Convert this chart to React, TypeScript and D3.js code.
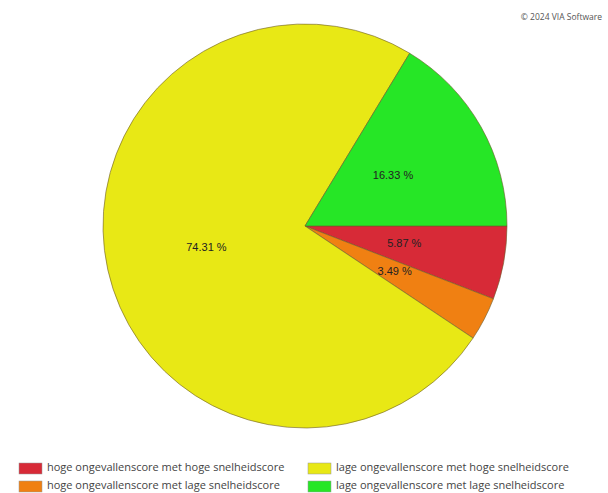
import React from "react";
import * as d3 from "d3";

const categories = [
  "hoge ongevallenscore met hoge snelheidscore",
  "hoge ongevallenscore met lage snelheidscore",
  "lage ongevallenscore met hoge snelheidscore",
  "lage ongevallenscore met lage snelheidscore",
];
const values = [5.87, 3.49, 74.31, 16.33];
const labels = ["5.87 %", "3.49 %", "74.31 %", "16.33 %"];
const colors = ["#d72a37", "#f08012", "#e8e815", "#26e626"];

const W = 608;
const H = 493;
const cx = 305;
const cy = 226;
const R = 202;

export default function App() {
  const pie = d3
    .pie<number>()
    .sort(null)
    .value((d) => d)
    .startAngle(Math.PI / 2)
    .endAngle(Math.PI / 2 + 2 * Math.PI);
  const arcs = pie(values);
  const arc = d3.arc<d3.PieArcDatum<number>>().innerRadius(0).outerRadius(R);
  const labelArc = d3
    .arc<d3.PieArcDatum<number>>()
    .innerRadius(R * 0.98)
    .outerRadius(R * 0.02);

  const font = "'Open Sans', Lato, sans-serif";
  const labelFont = "'Liberation Sans', Arial, sans-serif";

  return (
    <svg
      width={W}
      height={H}
      style={{ position: "absolute", left: 0, top: 0, background: "#fff" }}
    >
      <text
        x={602}
        y={18}
        textAnchor="end"
        dominantBaseline="middle"
        fontFamily={font}
        fontSize={8.5}
        fill="#555"
      >
        © 2024 VIA Software
      </text>
      <g transform={`translate(${cx},${cy})`}>
        {arcs.map((a, i) => (
          <path
            key={i}
            d={arc(a) || ""}
            fill={colors[i]}
            stroke="#6b5a2a"
            strokeWidth={0.6}
          />
        ))}
        {arcs.map((a, i) => {
          const [x, y] = labelArc.centroid(a);
          return (
            <text
              key={i}
              x={x}
              y={y}
              textAnchor="middle"
              dominantBaseline="middle"
              fontFamily={labelFont}
              fontSize={11}
              fill="#222"
            >
              {labels[i]}
            </text>
          );
        })}
      </g>
      <g>
        {categories.map((c, k) => {
          const col = Math.floor(k / 2);
          const row = k % 2;
          const x = 19 + col * 289;
          const y = 463 + row * 18;
          return (
            <g key={k} transform={`translate(${x},${y})`}>
              <rect
                width={23}
                height={11}
                fill={colors[k]}
                stroke="#999"
                strokeWidth={0.5}
              />
              <text
                x={28}
                y={5.5}
                dominantBaseline="middle"
                fontFamily={font}
                fontSize={11}
                fill="#444"
              >
                {c}
              </text>
            </g>
          );
        })}
      </g>
    </svg>
  );
}
